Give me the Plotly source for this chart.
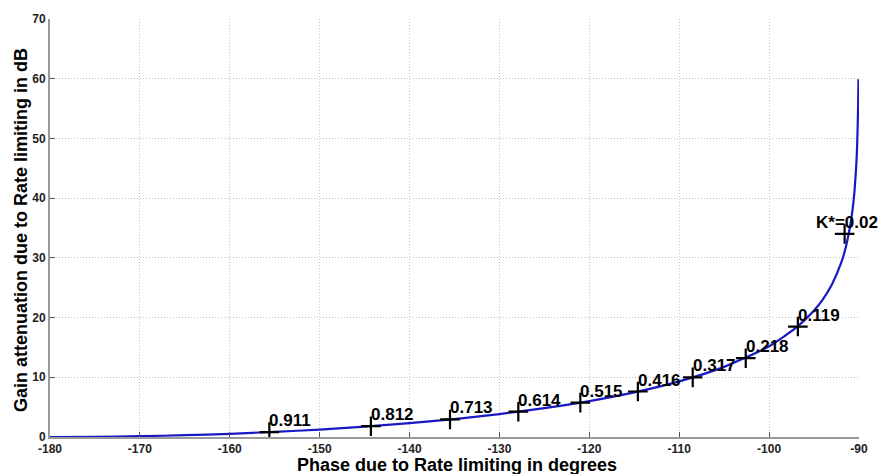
import plotly.graph_objects as go

# Curve: phase (deg) vs gain attenuation (dB)
curve_phase = [-180.0, -175.0, -170.0, -165.0, -160.0, -155.0, -150.0, -145.0, -140.0,
               -135.0, -130.0, -125.0, -120.0, -115.0, -110.0, -105.0, -100.0, -97.0,
               -95.0, -94.0, -93.0, -92.0, -91.5, -91.0, -90.7, -90.5, -90.3, -90.2,
               -90.1, -90.06]
curve_gain = [0.0, 0.03, 0.13, 0.30, 0.54, 0.86, 1.25, 1.73, 2.32,
              3.01, 3.84, 4.83, 6.02, 7.48, 9.32, 11.74, 15.2, 18.3,
              21.2, 23.1, 25.6, 29.1, 31.6, 35.2, 38.3, 41.2, 45.6, 49.1,
              55.2, 59.9]

# Marked points with their K* labels
mark_phase = [-155.6, -144.3, -135.5, -127.9, -121.0, -114.6, -108.5, -102.6, -96.8, -91.6]
mark_gain = [0.81, 1.81, 2.94, 4.24, 5.76, 7.62, 9.98, 13.2, 18.5, 34.0]
mark_labels = ["0.911", "0.812", "0.713", "0.614", "0.515", "0.416", "0.317", "0.218",
               "0.119", "K*=0.02"]

x_ticks = [-180, -170, -160, -150, -140, -130, -120, -110, -100, -90]
y_ticks = [0, 10, 20, 30, 40, 50, 60, 70]

FONT = "Liberation Sans, Arial, sans-serif"

fig = go.Figure()
fig.add_trace(go.Scatter(
    x=curve_phase, y=curve_gain, mode="lines",
    line=dict(color="rgb(25,25,195)", width=2.2, shape="spline", smoothing=0.6),
    hoverinfo="skip", showlegend=False,
))
fig.add_trace(go.Scatter(
    x=mark_phase, y=mark_gain, mode="markers",
    marker=dict(symbol="cross-thin", size=14, line=dict(color="black", width=2.2)),
    showlegend=False,
))

annotations = []
for px, gy, lab in zip(mark_phase, mark_gain, mark_labels):
    shift = -31 if lab.startswith("K") else -2
    annotations.append(dict(
        x=px, y=gy, xref="x", yref="y", text=lab, showarrow=False,
        xanchor="left", yanchor="bottom", xshift=shift, yshift=0,
        font=dict(family=FONT, size=17, color="black", weight="bold"),
    ))

annotations.append(dict(
    x=0.503, y=0, xref="paper", yref="paper", text="Phase due to Rate limiting in degrees",
    showarrow=False, xanchor="center", yanchor="top", yshift=-17, borderpad=0,
    font=dict(family=FONT, size=18, color="black", weight="bold"),
))
annotations.append(dict(
    x=0, y=0.5, xref="paper", yref="paper", text="Gain attenuation due to Rate limiting in dB",
    showarrow=False, xanchor="center", yanchor="middle", xshift=-29, yshift=-2,
    textangle=-90,
    font=dict(family=FONT, size=18, color="black", weight="bold"),
))

axis_common = dict(
    showgrid=True, gridcolor="#c4c4c4", griddash="1px,2px", gridwidth=1,
    showline=True, linecolor="#9a9a9a", linewidth=2,
    ticks="inside", ticklen=5, tickcolor="#555555", tickwidth=1,
    tickfont=dict(family=FONT, size=12, color="#222222", weight="bold"),
    zeroline=False, mirror=False,
)

fig.update_layout(
    width=882, height=474,
    margin=dict(l=50, r=23, t=14, b=37),
    paper_bgcolor="white", plot_bgcolor="white",
    xaxis=dict(range=[-180, -90], tickvals=x_ticks, ticktext=[str(v) for v in x_ticks], **axis_common),
    yaxis=dict(range=[0, 70], tickvals=y_ticks, ticktext=[str(v) for v in y_ticks], **axis_common),
    annotations=annotations,
    showlegend=False,
)

fig.write_html(
    "out.html",
    config={"displayModeBar": False},
    post_script="document.body.style.margin='0';document.body.style.overflow='hidden';",
)
